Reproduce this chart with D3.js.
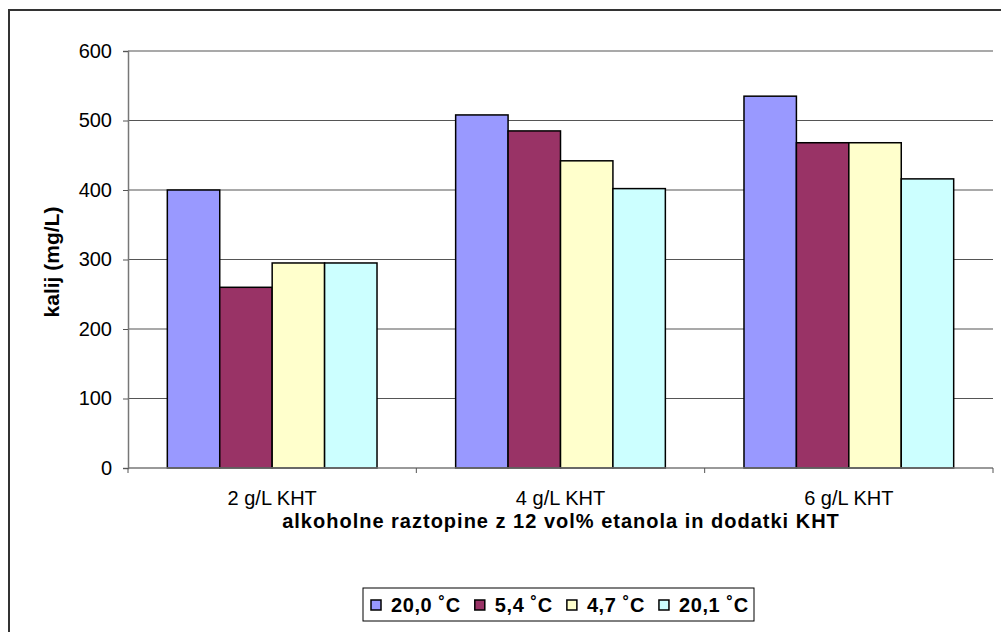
<!DOCTYPE html>
<html><head><meta charset="utf-8">
<script src="https://cdn.jsdelivr.net/npm/d3@7"></script>
<style>body{margin:0;background:#fff;}svg{display:block;font-family:Arial,"Liberation Sans",sans-serif;}</style>
</head><body>
<svg id="c" width="1001" height="632"></svg>
<script>
const categories = ["2 g/L KHT", "4 g/L KHT", "6 g/L KHT"];
const seriesNames = ["20,0 ˚C", "5,4 ˚C", "4,7 ˚C", "20,1 ˚C"];
const s1 = [400, 508, 535];
const s2 = [260, 485, 468];
const s3 = [295, 442, 468];
const s4 = [295, 402, 416];
const yTicks = [0, 100, 200, 300, 400, 500, 600];
const colors = ["#9999ff", "#993366", "#ffffcc", "#ccffff"];
const series = [s1, s2, s3, s4];

const svg = d3.select("#c");
svg.append("rect").attr("x", 9).attr("y", 10).attr("width", 1010).attr("height", 640)
  .attr("fill", "#fff").attr("stroke", "#333").attr("stroke-width", 2);

const L = 128, R = 993, T = 51, B = 468;
const y = d3.scaleLinear().domain([0, 600]).range([B, T]);
const x0 = d3.scaleBand().domain(categories).range([L, R]).paddingInner(0).paddingOuter(0);
// Excel gap width 150%: 4 bars + 1.5 bar-widths of gap per category
const bw = x0.bandwidth() / 5.5;
const x1 = d3.scaleBand().domain(d3.range(4)).range([bw * 0.75, x0.bandwidth() - bw * 0.75]).padding(0);

// gridlines
svg.append("g").selectAll("line").data(yTicks.filter(d => d > 0)).join("line")
  .attr("x1", L).attr("x2", R).attr("y1", d => y(d)).attr("y2", d => y(d))
  .attr("stroke", "#555").attr("stroke-width", 1.2);

// bars
const g = svg.append("g");
categories.forEach((c, ci) => {
  series.forEach((s, si) => {
    g.append("rect")
      .attr("x", x0(c) + x1(si)).attr("y", y(s[ci]))
      .attr("width", x1.bandwidth()).attr("height", B - y(s[ci]))
      .attr("fill", colors[si]).attr("stroke", "#000").attr("stroke-width", 1.5);
  });
});

// y axis
const yAxis = d3.axisLeft(y).tickValues(yTicks).tickSize(5).tickPadding(11);
const ya = svg.append("g").attr("transform", `translate(${L},0)`).call(yAxis);
ya.attr("font-size", null).attr("font-family", null);
ya.select(".domain").attr("stroke", "#777").attr("stroke-width", 1.5);
ya.selectAll(".tick line").attr("stroke", "#555");
ya.selectAll("text").attr("font-size", 20).attr("fill", "#000");

// x axis
const xa = svg.append("g").attr("transform", `translate(0,${B})`);
xa.append("line").attr("x1", L).attr("x2", R).attr("y1", 0).attr("y2", 0).attr("stroke", "#777").attr("stroke-width", 1.5);
xa.selectAll(".tk").data(d3.range(categories.length + 1)).join("line")
  .attr("x1", i => L + i * x0.bandwidth()).attr("x2", i => L + i * x0.bandwidth())
  .attr("y1", 0).attr("y2", 5).attr("stroke", "#555");
xa.selectAll(".lb").data(categories).join("text")
  .attr("x", c => x0(c) + x0.bandwidth() / 2).attr("y", 37)
  .attr("text-anchor", "middle").attr("font-size", 20).text(c => c);

// axis titles
svg.append("text").attr("x", 561).attr("y", 528).attr("text-anchor", "middle")
  .attr("font-size", 20).attr("font-weight", "bold").attr("letter-spacing", 1)
  .text("alkoholne raztopine z 12 vol% etanola in dodatki KHT");
svg.append("text").attr("transform", "translate(59,262) rotate(-90)").attr("text-anchor", "middle")
  .attr("font-size", 21).attr("font-weight", "bold").text("kalij (mg/L)");

// legend
const lg = svg.append("g");
lg.append("rect").attr("x", 363).attr("y", 588).attr("width", 391).attr("height", 33)
  .attr("fill", "#fff").attr("stroke", "#000").attr("stroke-width", 1);
let lx = 371;
seriesNames.forEach((n, i) => {
  lg.append("rect").attr("x", lx).attr("y", 600).attr("width", 10).attr("height", 10)
    .attr("fill", colors[i]).attr("stroke", "#000").attr("stroke-width", 1.5);
  const t = lg.append("text").attr("x", lx + 20).attr("y", 612).attr("font-size", 20)
    .attr("font-weight", "bold").attr("letter-spacing", 0.6).text(n);
  lx += 20 + t.node().getComputedTextLength() + 14;
});
</script>
</body></html>
